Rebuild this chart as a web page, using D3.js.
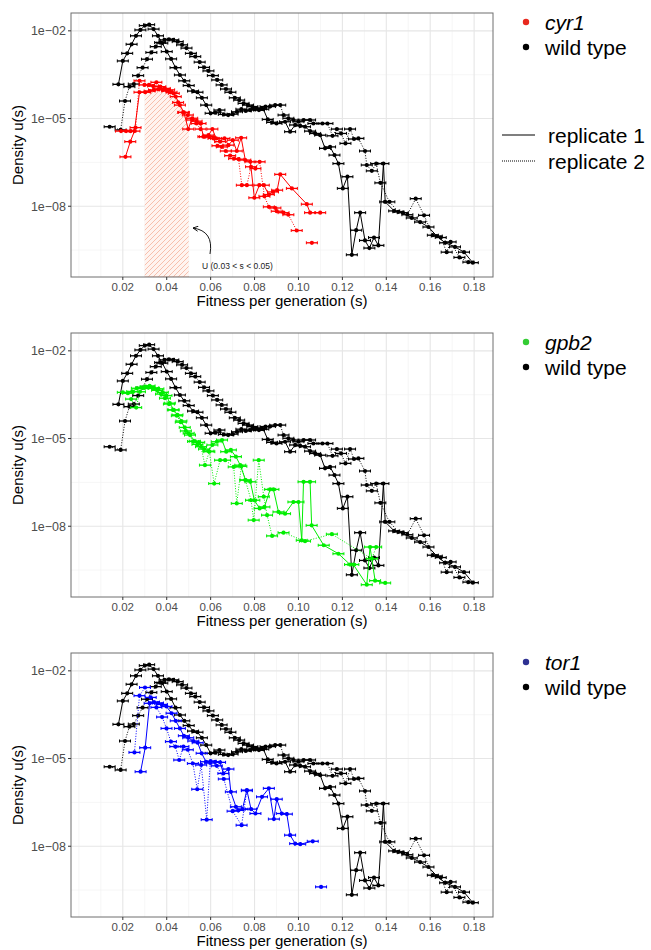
<!doctype html>
<html lang="en">
<head>
<meta charset="utf-8">
<title>Fitness effect distributions</title>
<script src="https://d3js.org/d3.v7.min.js"></script>
<style>
  body { margin:0; background:#fff; }
  text { font-family:"Liberation Sans", Arial, sans-serif; }
  .tick-label { fill:#4d4d4d; }
  .axis-title { font-size:15px; fill:#000; }
  .legend-text { font-size:21px; fill:#000; }
</style>
</head>
<body>
<div id="chart"></div>
<script>
// each point: [s (fitness per generation), log10 of density u(s)]; null = gap in the line
var wtRep1 = [[0.018,-3.83],[0.020,-3.03],[0.022,-2.77],[0.024,-2.46],[0.026,-2.17],[0.028,-1.97],[0.030,-1.82],[0.032,-1.79],
  [0.034,-1.94],[0.036,-2.17],[0.038,-2.42],[0.040,-2.71],[0.042,-2.96],[0.044,-3.26],[0.046,-3.51],[0.048,-3.71],[0.050,-3.87],
  [0.052,-4.06],[0.054,-4.10],[0.056,-4.29],[0.058,-4.54],[0.060,-4.82],[0.062,-4.80],[0.064,-4.71],[0.066,-4.86],[0.068,-4.88],
  [0.070,-4.85],[0.072,-4.77],[0.074,-4.68],[0.076,-4.74],[0.078,-4.71],[0.080,-4.68],[0.082,-4.71],[0.084,-4.68],[0.086,-5.03],
  [0.088,-5.13],[0.090,-5.17],[0.0939,-5.11],[0.0962,-5.45],[0.0985,-5.22],[0.1008,-5.25],[0.1030,-5.28],[0.1053,-5.43],
  [0.1076,-5.51],[0.1099,-5.57],[0.1121,-6.02],[0.1144,-5.97],[0.1164,-6.25],[0.1182,-6.54],[0.1202,-7.39],[0.1223,-6.99],
  [0.1243,-9.66],[0.1263,-8.82],[0.1281,-8.22],[0.1303,-9.17],[0.1323,-9.43],[0.1344,-9.07],[0.1364,-9.34],[0.1387,-6.54],
  [0.1395,-7.85],[0.1436,-8.16],[0.1475,-8.22],[0.1516,-8.40],[0.1554,-8.54],[0.1592,-8.71],[0.1630,-9.02],[0.1668,-9.25],
  [0.1713,-9.39],[0.1754,-9.57],[0.1794,-9.93]];

var wtRep2 = [[0.014,-5.28],[0.019,-5.39],[0.021,-4.40],[0.023,-3.91],[0.025,-3.82],[0.027,-3.53],[0.029,-3.26],[0.031,-2.97],
  [0.033,-2.74],[0.035,-2.54],[0.037,-2.40],[0.039,-2.31],[0.041,-2.29],[0.043,-2.31],[0.045,-2.37],[0.047,-2.48],[0.049,-2.59],
  [0.051,-2.77],[0.053,-2.88],[0.055,-3.07],[0.057,-3.25],[0.059,-3.37],[0.061,-3.53],[0.063,-3.68],[0.065,-3.85],[0.067,-3.99],
  [0.069,-4.10],[0.071,-4.29],[0.073,-4.37],[0.075,-4.48],[0.077,-4.54],[0.079,-4.59],[0.081,-4.65],[0.083,-4.67],[0.085,-4.59],
  [0.087,-4.59],[0.0894,-4.54],[0.0917,-4.54],[0.0932,-4.88],[0.0954,-4.99],[0.0977,-5.05],[0.1000,-5.11],[0.1023,-5.05],
  [0.1053,-5.05],[0.1068,-5.17],[0.1109,-5.17],[0.1132,-5.17],[0.1155,-5.59],[0.1175,-5.36],[0.1194,-5.51],[0.1214,-5.85],
  [0.1235,-5.36],[0.1253,-5.70],[0.1273,-5.68],[0.1303,-6.11],[0.1311,-6.59],[0.1334,-6.79],[0.1354,-6.54],[0.1373,-7.20],
  [0.1414,-7.85],[0.1455,-8.19],[0.1496,-8.29],[0.1534,-7.74],[0.1572,-8.31],[0.1612,-8.99],[0.1648,-9.07],[0.1675,-9.57],
  [0.1693,-9.22],[0.1733,-9.75],[0.1774,-9.91]];

var cyr1Rep1 = [[0.0212,-6.31],[0.0234,-5.79],[0.0253,-5.43],[0.0276,-4.10],[0.0302,-4.10],[0.0322,-4.06],[0.0342,-4.02],
  [0.0362,-3.99],[0.0382,-4.02],[0.0402,-4.06],[0.0422,-4.10],[0.0441,-4.25],[0.0460,-4.54],[0.0478,-4.79],[0.0498,-5.36],
  [0.0516,-4.99],[0.0536,-5.09],[0.0554,-5.17],[0.0567,-5.62],[0.0590,-5.57],[0.0608,-5.36],[0.0625,-5.68],[0.0643,-5.79],
  [0.0663,-5.68],[0.0681,-5.91],[0.0701,-5.74],[0.0719,-6.11],[0.0739,-5.66],[0.0758,-6.42],[0.0781,-6.48],[0.0799,-7.71],
  [0.0822,-7.28],[0.0842,-7.28],[0.0865,-7.60],[0.0884,-7.51],[0.0903,-7.45],[0.0917,-6.91],[0.0970,-7.39],[0.1038,-7.93],
  [0.1053,-8.22],[0.1099,-8.22]];

var cyr1Rep2 = [[0.0192,-5.43],[0.0215,-5.43],[0.0235,-5.43],[0.0258,-5.31],[0.0276,-3.71],[0.0299,-3.85],[0.0319,-3.85],
  [0.0338,-3.89],[0.0353,-3.76],[0.0371,-3.91],[0.0391,-3.97],[0.0411,-4.02],[0.0432,-4.14],[0.0452,-4.45],[0.0475,-4.79],
  [0.0496,-4.88],[0.0516,-5.05],[0.0536,-5.17],[0.0554,-5.36],[0.0574,-5.62],[0.0594,-5.62],[0.0613,-5.68],[0.0631,-5.93],
  [0.0651,-5.97],[0.0669,-6.11],[0.0689,-6.27],[0.0707,-6.37],[0.0727,-6.39],[0.0742,-7.28],[0.0765,-7.28],[0.0784,-6.65],
  [0.0804,-6.71],[0.0823,-6.48],[0.0845,-7.66],[0.0865,-8.02],[0.0895,-8.06],[0.0901,-8.17],[0.0932,-8.22],[0.0954,-8.29],
  [0.0992,-8.83],[0.1030,null],[0.1061,-9.25]];

var gpb2Rep1 = [[0.0200,-3.42],[0.0223,-3.45],[0.0243,-3.39],[0.0264,-3.28],[0.0284,-3.26],[0.0304,-3.22],[0.0322,-3.20],
  [0.0342,-3.28],[0.0362,-3.30],[0.0382,-3.42],[0.0399,-3.53],[0.0414,-3.79],[0.0432,-4.02],[0.0449,-4.19],[0.0467,-4.40],
  [0.0487,-4.74],[0.0506,-4.88],[0.0528,-5.09],[0.0548,-5.13],[0.0570,-5.36],[0.0590,-5.43],[0.0608,-5.22],[0.0628,-5.11],
  [0.0652,-5.05],[0.0671,-5.45],[0.0692,-5.39],[0.0715,-5.62],[0.0735,-5.91],[0.0759,-6.42],[0.0781,-6.48],[0.0799,-7.11],
  [0.0823,-7.39],[0.0845,-7.34],[0.0871,-6.74],[0.0886,-6.74],[0.0909,-7.51],[0.0939,-7.57],[0.0977,-7.17],[0.1000,-7.17],
  [0.1015,-8.48],[0.1023,-6.48],[0.1053,-6.48],[0.1060,-7.97],[0.1115,-8.65],[0.1182,-8.94],[0.1235,-9.31],[0.1250,-9.31],
  [0.1311,-10.00],[0.1326,-8.71],[0.1349,-9.86],[0.1395,-9.94]];

var gpb2Rep2 = [[0.0238,-3.65],[0.0261,-3.94],[0.0278,-3.40],[0.0298,-3.27],[0.0318,-3.24],[0.0338,-3.27],[0.0356,-3.35],
  [0.0374,-3.48],[0.0392,-3.62],[0.0410,-3.82],[0.0428,-4.02],[0.0446,-4.22],[0.0464,-4.44],[0.0482,-4.62],[0.0500,-4.82],
  [0.0520,-5.10],[0.0540,-5.20],[0.0556,-5.28],[0.0574,-5.91],[0.0594,-5.45],[0.0616,-6.54],[0.0643,-5.74],[0.0666,-5.74],
  [0.0705,-5.97],[0.0719,-7.22],[0.0740,-5.95],[0.0758,-6.42],[0.0784,-7.11],[0.0796,-7.79],[0.0819,-5.74],[0.0842,-6.99],
  [0.0857,-7.62],[0.0880,-8.33],[0.0932,-8.22],[0.1030,-8.51],[0.1152,-8.27],[0.1334,-9.11],[0.1354,-8.71]];

var tor1Rep1 = [[0.0281,-5.45],[0.0302,-4.63],[0.0322,-3.11],[0.0342,-3.07],[0.0360,-3.10],[0.0378,-3.15],[0.0399,-3.22],
  [0.0422,-3.45],[0.0441,-3.71],[0.0460,-3.97],[0.0478,-4.22],[0.0498,-4.29],[0.0521,-4.40],[0.0541,-4.46],[0.0559,-4.82],
  [0.0579,-5.11],[0.0600,-5.09],[0.0620,-5.11],[0.0643,-5.13],[0.0658,-5.51],[0.0681,-5.36],[0.0692,-6.14],[0.0715,-6.65],
  [0.0727,-6.77],[0.0745,-6.73],[0.0765,-6.08],[0.0784,-6.73],[0.0804,-6.88],[0.0834,-6.31],[0.0865,-6.02],[0.0888,-7.07],
  [0.0901,-6.39],[0.0924,-6.88],[0.0947,-6.90],[0.0962,-7.62],[0.0985,-7.91],[0.1008,-7.93],[0.1065,-7.83],[0.1085,null],
  [0.1103,-9.39]];

var tor1Rep2 = [[0.0253,-4.79],[0.0276,-2.85],[0.0301,-2.57],[0.0327,-2.91],[0.0353,-3.25],[0.0379,-3.58],[0.0399,-3.97],
  [0.0419,-4.42],[0.0439,-4.59],[0.0457,-5.05],[0.0476,-4.59],[0.0496,-4.70],[0.0519,-5.17],[0.0539,-6.05],[0.0557,-5.22],
  [0.0582,-7.09],[0.0598,-5.15],[0.0628,-5.25],[0.0660,-5.70],[0.0700,-6.80],[0.0741,-7.28],[0.0765,-6.10]];

var xTicks = [0.02,0.04,0.06,0.08,0.10,0.12,0.14,0.16,0.18];
var xTickLabels = ["0.02","0.04","0.06","0.08","0.10","0.12","0.14","0.16","0.18"];
var xMinor = [0.00,0.01,0.03,0.05,0.07,0.09,0.11,0.13,0.15,0.17];
var yTicks = [-2,-5,-8];
var yTickLabels = ["1e\u221202","1e\u221205","1e\u221208"];
var yMinor = [-3.5,-6.5,-9.5];

var panels = [
  {name:"cyr1", rep1:cyr1Rep1, rep2:cyr1Rep2, line:"#ff0000", key:"#e8281e"},
  {name:"gpb2", rep1:gpb2Rep1, rep2:gpb2Rep2, line:"#00ee00", key:"#33cc33"},
  {name:"tor1", rep1:tor1Rep1, rep2:tor1Rep2, line:"#0000ff", key:"#2e3192"}
];

var width = 651, height = 950;
var left = 71, right = 493, panelH = 264, errHalf = 0.0025;

var svg = d3.select("#chart").append("svg")
  .attr("width", width)
  .attr("height", height);

var defs = svg.append("defs");

var pat = defs.append("pattern")
  .attr("id", "hatch")
  .attr("patternUnits", "userSpaceOnUse")
  .attr("width", 5).attr("height", 5);
pat.append("rect").attr("width", 5).attr("height", 5).attr("fill", "#fff4f0");
pat.append("path")
  .attr("d", "M-1,1 l2,-2 M0,5 l5,-5 M4,6 l2,-2")
  .attr("stroke", "#f5b29c")
  .attr("stroke-width", 0.8);

defs.append("marker")
  .attr("id", "arrow")
  .attr("viewBox", "0 0 10 10")
  .attr("refX", 9).attr("refY", 5)
  .attr("markerWidth", 7).attr("markerHeight", 7)
  .attr("orient", "auto")
  .append("path")
  .attr("d", "M1,1 L9,5 L1,9")
  .attr("fill", "none")
  .attr("stroke", "#000")
  .attr("stroke-width", 1.4);

var x = d3.scaleLinear().domain([-0.0036, 0.1886]).range([left, right]);

function defined(d) { return d[1] != null; }

function drawSeries(g, data, y, color, dotted) {
  var pts = data.filter(defined);
  var line = d3.line()
    .defined(defined)
    .x(function(d){ return x(d[0]); })
    .y(function(d){ return y(d[1]); });

  g.append("path")
    .datum(data)
    .attr("d", line)
    .attr("fill", "none")
    .attr("stroke", color)
    .attr("stroke-width", 1)
    .attr("stroke-dasharray", dotted ? "1,1.6" : null);

  // horizontal error bars with small caps
  g.selectAll(null).data(pts).enter().append("line")
    .attr("x1", function(d){ return x(d[0] - errHalf); })
    .attr("x2", function(d){ return x(d[0] + errHalf); })
    .attr("y1", function(d){ return y(d[1]); })
    .attr("y2", function(d){ return y(d[1]); })
    .attr("stroke", color)
    .attr("stroke-width", 1.3);

  [-errHalf, errHalf].forEach(function(o){
    g.selectAll(null).data(pts).enter().append("line")
      .attr("x1", function(d){ return x(d[0] + o); })
      .attr("x2", function(d){ return x(d[0] + o); })
      .attr("y1", function(d){ return y(d[1]) - 1.5; })
      .attr("y2", function(d){ return y(d[1]) + 1.5; })
      .attr("stroke", color)
      .attr("stroke-width", 1);
  });

  g.selectAll(null).data(pts).enter().append("circle")
    .attr("cx", function(d){ return x(d[0]); })
    .attr("cy", function(d){ return y(d[1]); })
    .attr("r", 2.1)
    .attr("fill", color);
}

panels.forEach(function(p, i) {
  var top = 13 + i * 320, bottom = top + panelH;
  var y = d3.scaleLinear().domain([-10.42, -1.39]).range([bottom, top]);
  var g = svg.append("g");

  defs.append("clipPath").attr("id", "clip" + i)
    .append("rect")
    .attr("x", left).attr("y", top)
    .attr("width", right - left).attr("height", panelH);

  // grid
  g.selectAll(null).data(xMinor).enter().append("line")
    .attr("x1", function(d){ return x(d); }).attr("x2", function(d){ return x(d); })
    .attr("y1", top).attr("y2", bottom)
    .attr("stroke", "#f2f2f2").attr("stroke-width", 0.7);
  g.selectAll(null).data(yMinor).enter().append("line")
    .attr("x1", left).attr("x2", right)
    .attr("y1", function(d){ return y(d); }).attr("y2", function(d){ return y(d); })
    .attr("stroke", "#f2f2f2").attr("stroke-width", 0.7);
  g.selectAll(null).data(xTicks).enter().append("line")
    .attr("x1", function(d){ return x(d); }).attr("x2", function(d){ return x(d); })
    .attr("y1", top).attr("y2", bottom)
    .attr("stroke", "#e6e6e6").attr("stroke-width", 1.1);
  g.selectAll(null).data(yTicks).enter().append("line")
    .attr("x1", left).attr("x2", right)
    .attr("y1", function(d){ return y(d); }).attr("y2", function(d){ return y(d); })
    .attr("stroke", "#e6e6e6").attr("stroke-width", 1.1);

  var plot = g.append("g").attr("clip-path", "url(#clip" + i + ")");

  if (i == 0) {
    // shaded U(0.03 < s < 0.05) under cyr1 replicate 1
    defs.append("clipPath").attr("id", "band")
      .append("rect")
      .attr("x", x(0.03)).attr("y", top)
      .attr("width", x(0.05) - x(0.03)).attr("height", panelH);
    var area = d3.area()
      .x(function(d){ return x(d[0]); })
      .y0(bottom)
      .y1(function(d){ return y(d[1]); });
    plot.append("path")
      .datum(p.rep1)
      .attr("d", area)
      .attr("clip-path", "url(#band)")
      .attr("fill", "url(#hatch)")
      .attr("stroke", "#f7bfae")
      .attr("stroke-width", 1);
  }

  drawSeries(plot, wtRep1, y, "#000", false);
  drawSeries(plot, wtRep2, y, "#000", true);
  drawSeries(plot, p.rep1, y, p.line, false);
  drawSeries(plot, p.rep2, y, p.line, true);

  // border
  g.append("rect")
    .attr("x", left).attr("y", top)
    .attr("width", right - left).attr("height", panelH)
    .attr("fill", "none").attr("stroke", "#6e6e6e").attr("stroke-width", 1);

  // ticks + labels
  g.selectAll(null).data(xTicks).enter().append("line")
    .attr("x1", function(d){ return x(d); }).attr("x2", function(d){ return x(d); })
    .attr("y1", bottom).attr("y2", bottom + 3)
    .attr("stroke", "#333");
  g.selectAll(null).data(xTicks).enter().append("text")
    .attr("class", "tick-label")
    .attr("font-size", "11.5px")
    .attr("x", function(d){ return x(d); })
    .attr("y", bottom + 14)
    .attr("text-anchor", "middle")
    .text(function(d, j){ return xTickLabels[j]; });
  g.selectAll(null).data(yTicks).enter().append("line")
    .attr("x1", left - 3).attr("x2", left)
    .attr("y1", function(d){ return y(d); }).attr("y2", function(d){ return y(d); })
    .attr("stroke", "#333");
  g.selectAll(null).data(yTicks).enter().append("text")
    .attr("class", "tick-label")
    .attr("font-size", "12.5px")
    .attr("x", left - 5)
    .attr("y", function(d){ return y(d) + 4.3; })
    .attr("text-anchor", "end")
    .text(function(d, j){ return yTickLabels[j]; });

  g.append("text")
    .attr("class", "axis-title")
    .attr("x", (left + right) / 2)
    .attr("y", bottom + 29)
    .attr("text-anchor", "middle")
    .text("Fitness per generation (s)");
  g.append("text")
    .attr("class", "axis-title")
    .attr("transform", "translate(22.5," + ((top + bottom) / 2) + ") rotate(-90)")
    .attr("text-anchor", "middle")
    .text("Density u(s)");

  // legend
  var keys = [{label:p.name, color:p.key, italic:true}, {label:"wild type", color:"#000", italic:false}];
  var lg = g.selectAll(null).data(keys).enter().append("g")
    .attr("transform", function(d, j){ return "translate(526," + (top + 9 + j * 25) + ")"; });
  lg.append("circle").attr("r", 3.2).attr("fill", function(d){ return d.color; });
  lg.append("text")
    .attr("class", "legend-text")
    .attr("x", 19).attr("y", 7.5)
    .attr("font-style", function(d){ return d.italic ? "italic" : null; })
    .text(function(d){ return d.label; });

  if (i == 0) {
    var reps = [{label:"replicate 1", dash:null}, {label:"replicate 2", dash:"1,1"}];
    var rl = g.selectAll(null).data(reps).enter().append("g")
      .attr("transform", function(d, j){ return "translate(502," + (135 + j * 26) + ")"; });
    rl.append("line")
      .attr("x1", 0).attr("x2", 33)
      .attr("stroke", "#000").attr("stroke-width", 1.1)
      .attr("stroke-dasharray", function(d){ return d.dash; });
    rl.append("text")
      .attr("class", "legend-text")
      .attr("x", 46).attr("y", 7.5)
      .text(function(d){ return d.label; });

    // annotation
    g.append("path")
      .attr("d", "M210,254 Q214,231 193,228")
      .attr("fill", "none")
      .attr("stroke", "#000")
      .attr("stroke-width", 0.9)
      .attr("marker-end", "url(#arrow)");
    g.append("text")
      .attr("x", 202).attr("y", 269)
      .attr("font-size", "8.5px")
      .attr("fill", "#222")
      .text("U (0.03 < s < 0.05)");
  }
});
</script>
</body>
</html>
